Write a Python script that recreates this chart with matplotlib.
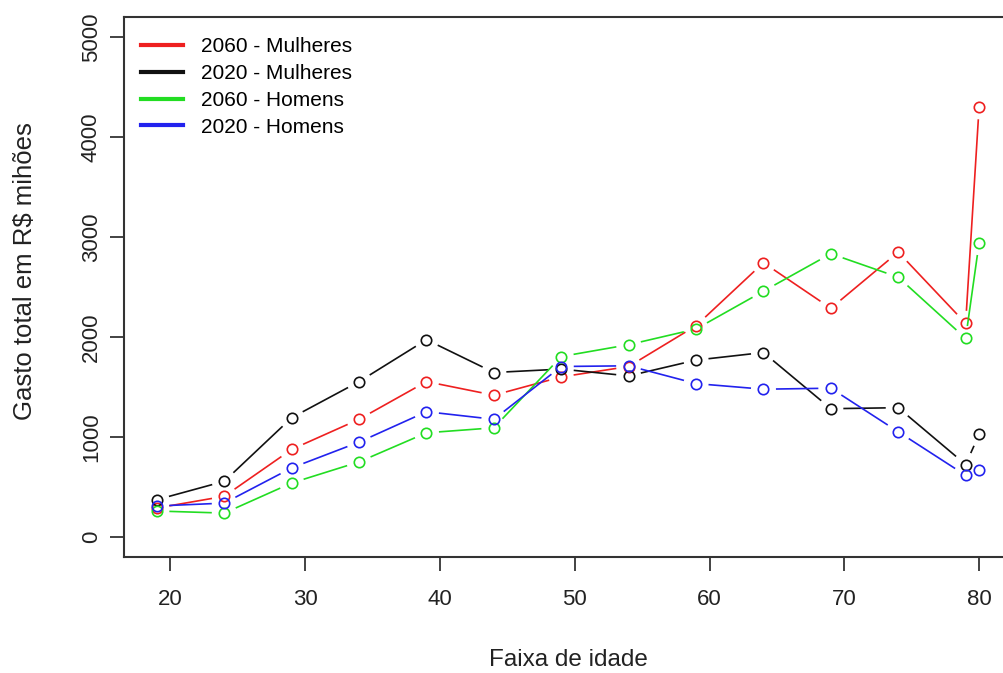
import matplotlib
matplotlib.use("Agg")
import matplotlib.pyplot as plt
from matplotlib.lines import Line2D
import numpy as np

plt.rcParams['font.family'] = ['Liberation Sans', 'DejaVu Sans']

idade = [19, 24, 29, 34, 39, 44, 49, 54, 59, 64, 69, 74, 79, 80]
mulheres_2060 = [290, 407, 876, 1177, 1554, 1418, 1601, 1705, 2113, 2743, 2287, 2849, 2137, 4302]
mulheres_2020 = [373, 557, 1193, 1554, 1973, 1645, 1679, 1611, 1769, 1845, 1283, 1293, 725, 1026]
homens_2060 = [260, 239, 540, 751, 1042, 1092, 1805, 1923, 2080, 2458, 2833, 2598, 1986, 2944]
homens_2020 = [310, 339, 691, 949, 1253, 1177, 1705, 1712, 1534, 1478, 1488, 1052, 617, 675]

series = [
    ("2060 - Mulheres", mulheres_2060, "#EE2020"),
    ("2020 - Mulheres", mulheres_2020, "#111111"),
    ("2060 - Homens", homens_2060, "#22DD22"),
    ("2020 - Homens", homens_2020, "#2222EE"),
]
xticks = [20, 30, 40, 50, 60, 70, 80]
yticks = [0, 1000, 2000, 3000, 4000, 5000]

W, H = 1004, 673
fig = plt.figure(figsize=(W / 100, H / 100), dpi=100)
ax = fig.add_axes([124 / W, 1 - 557 / H, 888 / W, 540 / H])
ax.set_xlim(16.56, 82.44)
ax.set_ylim(-200, 5200)

GAP = 12.5  # pixels, like R type="b"
for label, vals, col in series:
    pts = ax.transData.transform(np.column_stack([idade, vals]))
    for i in range(len(pts) - 1):
        p0, p1 = pts[i], pts[i + 1]
        d = p1 - p0
        L = np.hypot(*d)
        if L <= 2 * GAP:
            continue
        u = d / L
        a = ax.transData.inverted().transform(p0 + u * GAP)
        b = ax.transData.inverted().transform(p1 - u * GAP)
        ax.plot([a[0], b[0]], [a[1], b[1]], color=col, lw=1.2, solid_capstyle='butt')
    ax.plot(idade, vals, linestyle='none', marker='o', markersize=7.5,
            markerfacecolor='none', markeredgecolor=col, markeredgewidth=1.2)

ax.set_xticks(xticks)
ax.set_yticks(yticks)
ax.set_yticklabels([str(v) for v in yticks], rotation=90, va='center')
ax.tick_params(axis='both', direction='out', length=10, width=1.2, labelsize=16,
               colors='#222222')
ax.tick_params(axis='x', pad=13)
ax.tick_params(axis='y', pad=6)
for s in ax.spines.values():
    s.set_linewidth(1.5)
    s.set_color('#333333')

ax.set_xlabel("Faixa de idade", fontsize=17.5, color='#222222', va='center')
ax.xaxis.set_label_coords((568 - 124) / 888, -(660 - 557) / 540, transform=ax.transAxes)
ax.set_ylabel("Gasto total em R$ mihões", fontsize=18.5, color='#222222', va='center')
ax.yaxis.set_label_coords(-(124 - 25) / 888, (557 - 271) / 540, transform=ax.transAxes)

handles = [Line2D([0], [0], color=c, lw=3) for _, _, c in series]
labels = [l for l, _, _ in series]
fig.legend(handles, labels, loc='upper left', bbox_to_anchor=(141 / W, 1 - 37 / H),
           frameon=False, fontsize=15, handlelength=2.0, handletextpad=0.9,
           labelspacing=0.38, borderpad=0, borderaxespad=0)

fig.savefig("out.png", dpi=100)
